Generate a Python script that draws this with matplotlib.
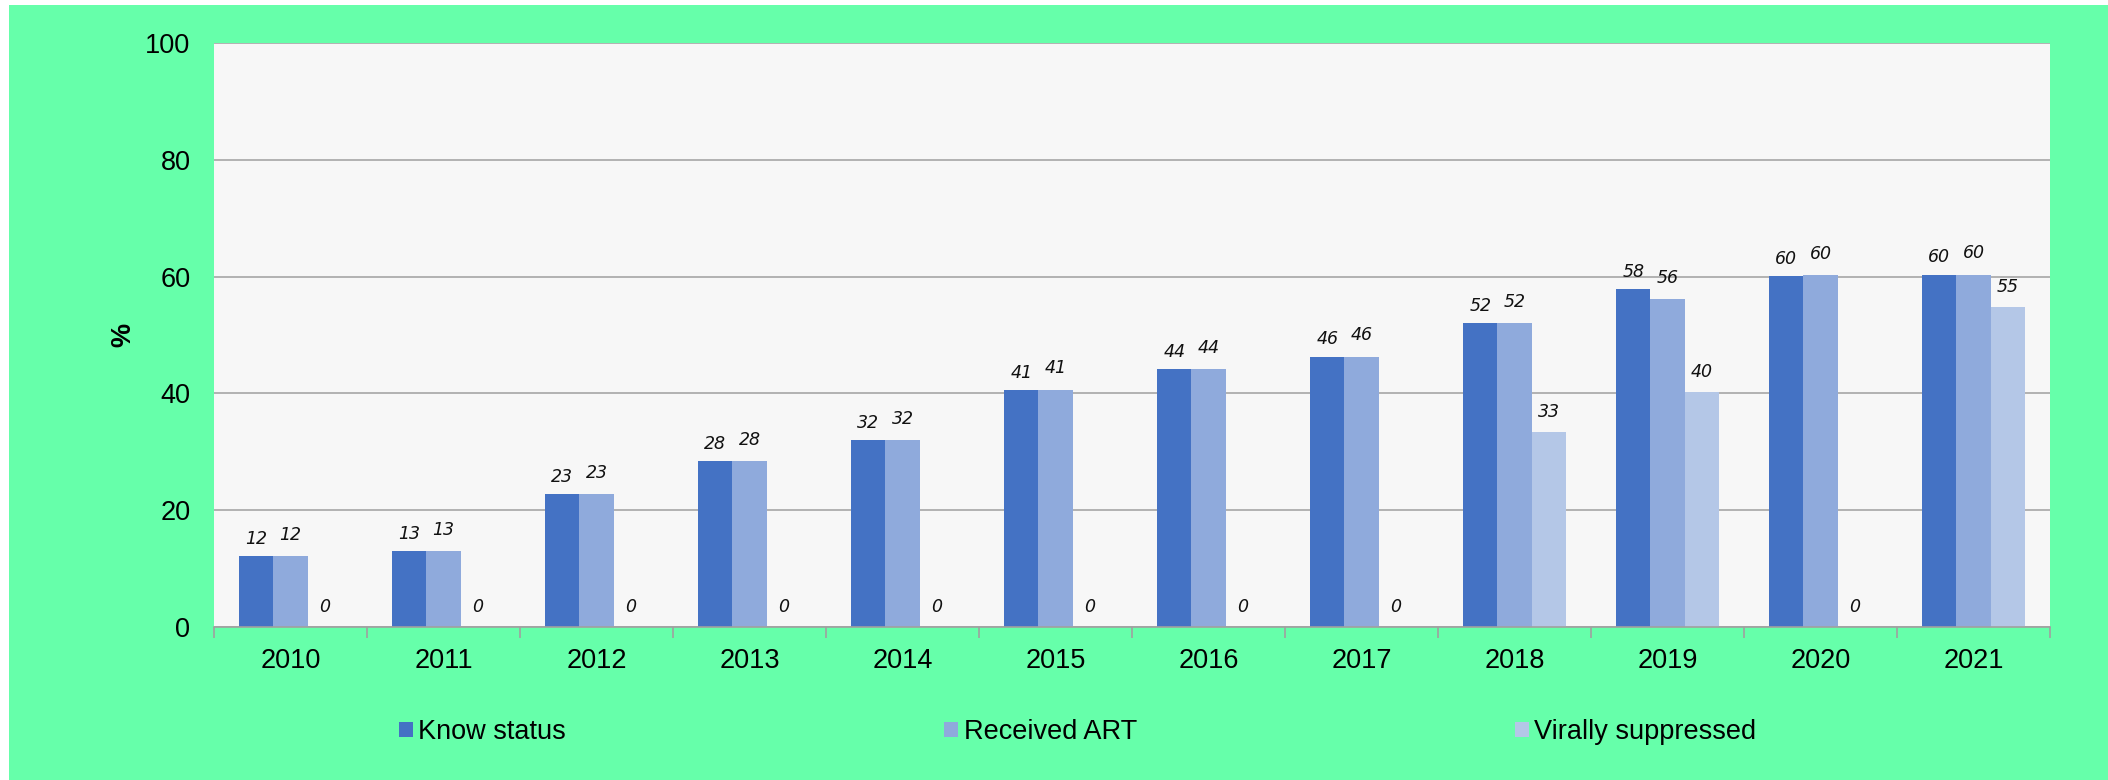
import matplotlib
matplotlib.use("Agg")
import matplotlib.pyplot as plt
import numpy as np
from matplotlib.patches import Rectangle, Patch

years = ["2010", "2011", "2012", "2013", "2014", "2015", "2016", "2017", "2018", "2019", "2020", "2021"]
know_status = [12.1, 13.0, 22.7, 28.4, 32.0, 40.6, 44.1, 46.3, 52.0, 57.9, 60.1, 60.3]
received_art = [12.1, 13.0, 22.7, 28.4, 32.0, 40.6, 44.1, 46.3, 52.0, 56.1, 60.2, 60.3]
virally_suppressed = [0, 0, 0, 0, 0, 0, 0, 0, 33.4, 40.2, 0, 54.8]
series_names = ["Know status", "Received ART", "Virally suppressed"]
colors = ["#4472C4", "#8FAADC", "#B4C7E7"]

W, H = 2108, 780
fig = plt.figure(figsize=(W / 100, H / 100), dpi=100)
fig.patch.set_facecolor("white")
fig.patches.append(Rectangle((9 / W, 0), 1 - 9 / W, 1 - 5 / H, transform=fig.transFigure,
                             facecolor="#66FFAA", edgecolor="none", zorder=-10))

ax = fig.add_axes([214 / W, 1 - 627 / H, (2050 - 214) / W, (627 - 43) / H])
ax.set_facecolor("#F7F7F7")

x = np.arange(len(years))
bw = 0.224
label_fonts = ["Liberation Sans Narrow", "DejaVu Sans"]
offsets = [12.5, 15.5, 14.5]
weights = ["normal", "light", "normal"]
for i, (vals, c) in enumerate(zip([know_status, received_art, virally_suppressed], colors)):
    pos = x + (i - 1) * bw
    ax.bar(pos, vals, width=bw, color=c, edgecolor="none", zorder=3, label=series_names[i])
    for px, v in zip(pos, vals):
        ax.annotate(f"{v:.0f}", (px, v), xytext=(0, offsets[i]), textcoords="offset points",
                    ha="center", va="center", fontsize=12.5, style="italic",
                    family=label_fonts, color="#111111", weight=weights[i])

ax.set_xlim(-0.5, len(years) - 0.5)
ax.set_ylim(0, 100)
ax.set_yticks(range(0, 101, 20))
ax.yaxis.grid(True, color="#A6A6A6", linewidth=1.2, zorder=0)
ax.set_axisbelow(True)
for s in ["left", "right", "top"]:
    ax.spines[s].set_visible(False)
ax.spines["bottom"].set_color("#A0A0A0")
ax.spines["bottom"].set_linewidth(1.2)
ax.spines["bottom"].set_zorder(4)

ax.set_xticks(np.arange(-0.5, len(years), 1.0))
ax.set_xticklabels([])
ax.set_xticks(x, minor=True)
ax.set_xticklabels(years, minor=True)
ax.tick_params(axis="x", which="major", length=8, color="#A0A0A0", width=1.2, direction="out")
ax.tick_params(axis="x", which="minor", length=0, pad=15, labelsize=19.5)
ax.tick_params(axis="y", length=0, pad=17, labelsize=19.5)
for lab in ax.get_xticklabels(minor=True) + ax.get_yticklabels():
    lab.set_family(["Liberation Sans", "DejaVu Sans"])

fig.text(123 / W, 1 - 335 / H, "%", rotation=90, ha="center", va="center",
         fontsize=19.5, fontweight="bold", family=["Liberation Sans", "DejaVu Sans"])

handles = [Patch(facecolor=c, edgecolor="none") for c in colors]
leg = fig.legend(handles, series_names, ncol=3, loc="center left",
                 bbox_to_anchor=(399 / W, 1 - 732 / H), frameon=False,
                 borderpad=0, borderaxespad=0, handlelength=0.52, handleheight=0.52,
                 handletextpad=0.2, columnspacing=13.95,
                 prop={"family": ["Liberation Sans", "DejaVu Sans"], "size": 19.5})

fig.savefig("out.png", dpi=100, facecolor=fig.get_facecolor())
